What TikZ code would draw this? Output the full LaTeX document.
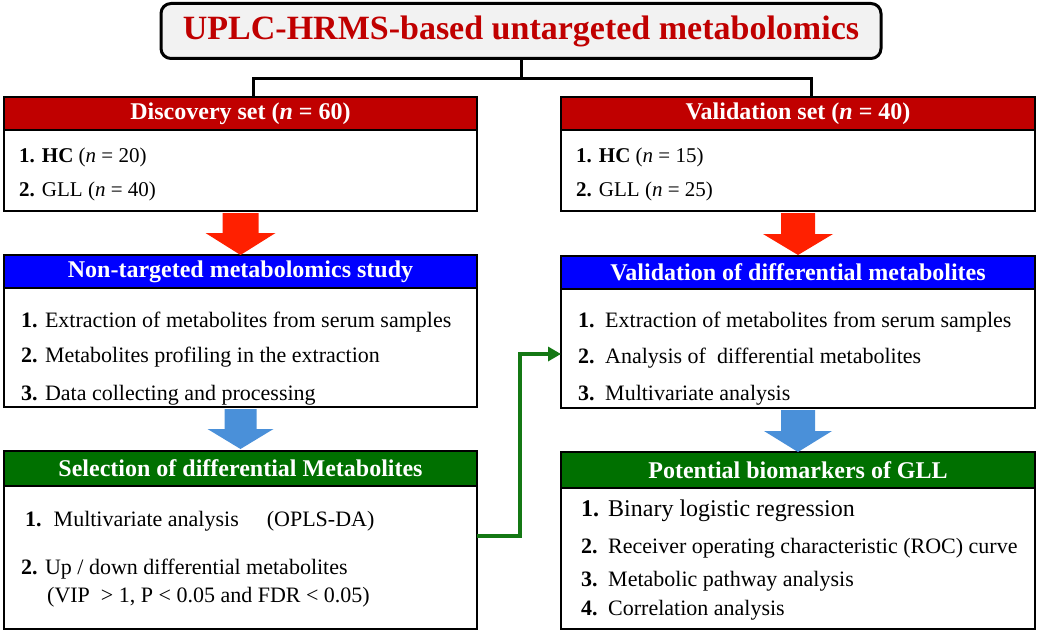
\documentclass[tikz,border=0pt]{standalone}
\usepackage{fontspec}
\setmainfont{Liberation Serif}
\usetikzlibrary{positioning,calc,arrows.meta}

\definecolor{setred}{RGB}{192,0,0}
\definecolor{titlered}{RGB}{192,0,0}
\definecolor{stepblue}{RGB}{0,0,255}
\definecolor{stepgreen}{RGB}{0,112,0}
\definecolor{arrowred}{RGB}{255,32,0}
\definecolor{arrowblue}{RGB}{74,144,217}
\definecolor{linkgreen}{RGB}{20,120,20}

\tikzset{
  headbox/.style={draw, line width=2pt, outer sep=0pt, minimum width=473pt, minimum height=33pt,
    inner sep=0pt, text=white, font=\fontsize{24}{26}\selectfont\bfseries},
  bodybox/.style={draw, line width=2pt, outer sep=0pt, fill=white, minimum width=473pt, inner sep=0pt},
  itemtext/.style={anchor=west, inner sep=0pt, font=\fontsize{22}{24}\selectfont},
}

% fat downward arrow: style, start, half shaft, half head, shaft length, head length
\newcommand{\blockdown}[6]{%
  \fill[#1] ($(#2)+(-#3,2)$) -- ++(2*#3,0) -- ++(0,#5) -- ++(#4-#3,0) -- ++(-#4,#6)
    -- ++(-#4,-#6) -- ++(#4-#3,0) -- cycle;}
\newcommand{\itemno}[1]{\makebox[27pt][l]{\textbf{#1}}}

\begin{document}
\begin{tikzpicture}[x=1pt,y=-1pt]
        \useasboundingbox (0,0) rectangle (1059,639);

        % title
        \node[draw, line width=3pt, rounded corners=10pt, fill=gray!10, minimum width=720pt,
          minimum height=55pt, text=titlered, font=\fontsize{34}{36}\selectfont\bfseries]
          (title) at (521,31) {UPLC-HRMS-based untargeted metabolomics};

        % left column
        \node[headbox, fill=setred] (disc) at (240.5,113.5) {Discovery set (\textit{n} = 60)};
        \node[bodybox, minimum height=81pt, below=0pt of disc] (discbody) {};
        \node[itemtext, font=\fontsize{21}{23}\selectfont] (d1) at (19,157) {\textbf{1. HC} (\textit{n} = 20)};
        \node[itemtext, font=\fontsize{21}{23}\selectfont] (d2) at (19,191) {\textbf{2.} GLL (\textit{n} = 40)};

        \node[headbox, fill=stepblue] (nt) at (240.5,271.5) {Non-targeted metabolomics study};
        \node[bodybox, minimum height=119pt, below=0pt of nt] (ntbody) {};
        \node[itemtext] (n1) at (21,322) {\textbf{1.} Extraction of metabolites from serum samples};
        \node[itemtext] (n2) at (21,357) {\textbf{2.} Metabolites profiling in the extraction};
        \node[itemtext] (n3) at (21,395) {\textbf{3.} Data collecting and processing};

        \node[headbox, fill=stepgreen, minimum height=35pt] (sel) at (240.5,468.5) {Selection of differential Metabolites};
        \node[bodybox, minimum height=143pt, below=0pt of sel] (selbody) {};
        \node[itemtext] (s1) at (25,521) {\textbf{1.}\hspace{12pt}Multivariate analysis\hspace{28pt}(OPLS-DA)};
        \node[itemtext] (s2) at (21,569) {\textbf{2.} Up / down differential metabolites};
        \node[itemtext] (s3) at (47,597) {(VIP \ > 1, P < 0.05 and FDR < 0.05)};

        % right column
        \node[headbox, fill=setred, minimum width=474pt] (valset) at (798,113.5) {Validation set (\textit{n} = 40)};
        \node[bodybox, minimum width=474pt, minimum height=81pt, below=0pt of valset] (valbody) {};
        \node[itemtext, font=\fontsize{21}{23}\selectfont] (v1) at (576,157) {\textbf{1. HC} (\textit{n} = 15)};
        \node[itemtext, font=\fontsize{21}{23}\selectfont] (v2) at (576,191) {\textbf{2.} GLL (\textit{n} = 25)};

        \node[headbox, fill=stepblue, minimum width=474pt] (vd) at (798,272.5) {Validation of differential metabolites};
        \node[bodybox, minimum width=474pt, minimum height=119pt, below=0pt of vd] (vdbody) {};
        \node[itemtext] (m1) at (578,322) {\itemno{1.}Extraction of metabolites from serum samples};
        \node[itemtext] (m2) at (578,358) {\itemno{2.}Analysis of \ differential metabolites};
        \node[itemtext] (m3) at (578,395) {\itemno{3.}Multivariate analysis};

        \node[headbox, fill=stepgreen, minimum width=474pt, minimum height=36pt] (pot) at (798,470) {Potential biomarkers of GLL};
        \node[bodybox, minimum width=474pt, minimum height=141pt, below=0pt of pot] (potbody) {};
        \node[itemtext, font=\fontsize{24}{26}\selectfont] (p1) at (581,511) {\itemno{1.}Binary logistic regression};
        \node[itemtext] (p2) at (581,548) {\itemno{2.}Receiver operating characteristic (ROC) curve};
        \node[itemtext] (p3) at (581,581) {\itemno{3.}Metabolic pathway analysis};
        \node[itemtext] (p4) at (581,610) {\itemno{4.}Correlation analysis};

        % tree from the title
        \coordinate (fork) at (521,79);
        \draw[line width=3pt] (title.south) -- (fork);
        \draw[line width=3pt] ($(disc.north)+(12.5,0)$) |- (fork) -| ($(valset.north)+(13,0)$);

        % fat arrows
        \blockdown{arrowred}{discbody.south}{18}{35}{20}{22}
        \blockdown{arrowred}{valbody.south}{17}{35}{21}{21}
        \blockdown{arrowblue}{ntbody.south}{16}{33}{20}{20}
        \blockdown{arrowblue}{vdbody.south}{17}{34}{21}{21}

        % link to validation
        \draw[line width=4pt, linkgreen, -{Triangle[length=13pt,width=14pt]}]
          ($(selbody.east)+(0,-21.5)$) -- ++(43,0) |- ($(vdbody.west)+(0,5.5)$);
\end{tikzpicture}
\end{document}
